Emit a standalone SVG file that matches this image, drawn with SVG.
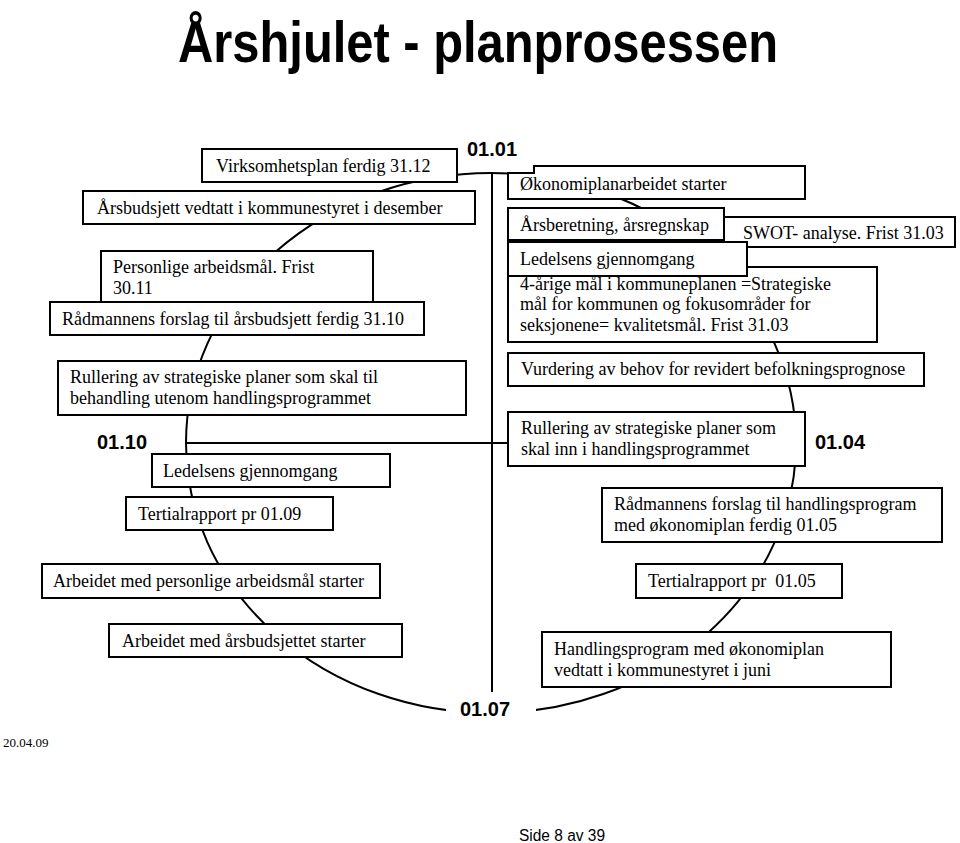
<svg xmlns="http://www.w3.org/2000/svg" width="960" height="843" viewBox="0 0 960 843">
<style>
.b{fill:#fff;stroke:#000;stroke-width:2}
.t{font-family:"Liberation Serif","Times New Roman",serif;font-size:18px;fill:#000}
.d{font-family:"Liberation Sans",Arial,sans-serif;font-size:20px;font-weight:bold;fill:#000}
.c{fill:none;stroke:#000;stroke-width:2}
</style>
<rect width="960" height="843" fill="#fff"/>
<text x="178" y="62" font-family="Liberation Sans,Arial,sans-serif" font-size="58" font-weight="bold" textLength="600" lengthAdjust="spacingAndGlyphs">Årshjulet - planprosessen</text>
<g id="connectors">
<ellipse class="c" cx="491" cy="443" rx="305" ry="270"/>
<line class="c" x1="492" y1="173" x2="492" y2="692"/>
<line class="c" x1="186" y1="443" x2="508" y2="443"/>
<rect x="446" y="697" width="90" height="26" fill="#fff"/>
</g>
<g id="labels">
<text class="d" x="467" y="156">01.01</text>
<text class="d" x="97" y="449">01.10</text>
<text class="d" x="815" y="449">01.04</text>
<text class="d" x="460" y="716">01.07</text>
</g>
<g id="n-virksomhet"><rect class="b" x="202" y="149" width="255" height="33"/><text class="t" x="216" y="172">Virksomhetsplan ferdig 31.12</text></g>
<g id="n-arsbudsjett"><rect class="b" x="83" y="191" width="392" height="33"/><text class="t" x="97" y="214">Årsbudsjett vedtatt i kommunestyret i desember</text></g>
<g id="n-personlige"><rect class="b" x="101" y="251" width="272" height="51"/><text class="t" x="113" y="273">Personlige arbeidsmål. Frist</text><text class="t" x="113" y="294">30.11</text></g>
<g id="n-radmann-budsjett"><rect class="b" x="50" y="302" width="374" height="33"/><text class="t" x="62" y="325">Rådmannens forslag til årsbudsjett ferdig 31.10</text></g>
<g id="n-okonomi"><path class="b" d="M534,166 H805 V199 H508 V173 H534 Z"/><text class="t" x="520" y="190">Økonomiplanarbeidet starter</text></g>
<g id="n-swot"><rect class="b" x="718" y="217" width="237" height="30"/><text class="t" x="743" y="239">SWOT- analyse. Frist 31.03</text></g>
<g id="n-arsberetning"><rect class="b" x="508" y="208" width="216" height="32"/><text class="t" x="520" y="231">Årsberetning, årsregnskap</text></g>
<g id="n-4arige"><rect class="b" x="508" y="267" width="369" height="75"/><text class="t" x="520" y="290">4-årige mål i kommuneplanen =Strategiske</text><text class="t" x="520" y="310">mål for kommunen og fokusområder for</text><text class="t" x="520" y="331">seksjonene= kvalitetsmål. Frist 31.03</text></g>
<g id="n-ledelsens-1"><rect class="b" x="508" y="242" width="239" height="34"/><text class="t" x="520" y="265">Ledelsens gjennomgang</text></g>
<g id="n-rullering-utenom"><rect class="b" x="58" y="361" width="408" height="54"/><text class="t" x="70" y="383">Rullering av strategiske planer som skal til</text><text class="t" x="70" y="404">behandling utenom handlingsprogrammet</text></g>
<g id="n-ledelsens-2"><rect class="b" x="152" y="454" width="238" height="33"/><text class="t" x="163" y="477">Ledelsens gjennomgang</text></g>
<g id="n-tertial-0109"><rect class="b" x="126" y="497" width="207" height="33"/><text class="t" x="138" y="520">Tertialrapport pr 01.09</text></g>
<g id="n-vurdering"><rect class="b" x="508" y="353" width="416" height="33"/><text class="t" x="521" y="375">Vurdering av behov for revidert befolkningsprognose</text></g>
<g id="n-rullering-inn"><rect class="b" x="508" y="412" width="297" height="54"/><text class="t" x="521" y="434">Rullering av strategiske planer som</text><text class="t" x="521" y="455">skal inn i handlingsprogrammet</text></g>
<g id="n-radmann-hp"><rect class="b" x="602" y="488" width="340" height="54"/><text class="t" x="614" y="510">Rådmannens forslag til handlingsprogram</text><text class="t" x="614" y="531">med økonomiplan ferdig 01.05</text></g>
<g id="n-arbeidet-personlige"><rect class="b" x="42" y="564" width="338" height="34"/><text class="t" x="53" y="587">Arbeidet med personlige arbeidsmål starter</text></g>
<g id="n-tertial-0105"><rect class="b" x="636" y="564" width="206" height="34"/><text class="t" x="648" y="587" style="white-space:pre">Tertialrapport pr  01.05</text></g>
<g id="n-arbeidet-budsjett"><rect class="b" x="109" y="624" width="293" height="33"/><text class="t" x="122" y="647">Arbeidet med årsbudsjettet starter</text></g>
<g id="n-handlingsprogram"><rect class="b" x="542" y="632" width="349" height="55"/><text class="t" x="554" y="655">Handlingsprogram med økonomiplan</text><text class="t" x="554" y="676">vedtatt i kommunestyret i juni</text></g>
<text x="3" y="747" font-family="Liberation Serif,Times New Roman,serif" font-size="13">20.04.09</text>
<text x="519" y="841" font-family="Liberation Sans,Arial,sans-serif" font-size="16" textLength="86" lengthAdjust="spacingAndGlyphs">Side 8 av 39</text>
</svg>
